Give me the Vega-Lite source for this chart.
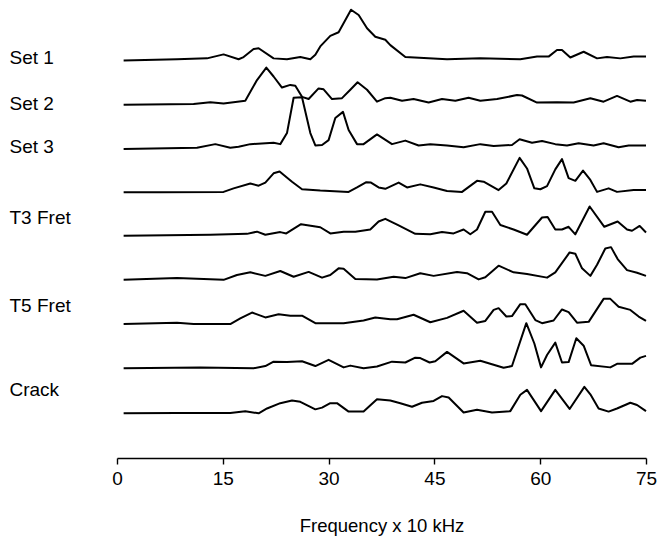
{
  "$schema": "https://vega.github.io/schema/vega-lite/v6.json",
  "width": 529,
  "height": 454,
  "autosize": {"type": "none"},
  "padding": {"left": 117, "top": 4, "right": 13, "bottom": 90},
  "background": "white",
  "config": {
    "view": {"stroke": null},
    "font": "Liberation Sans"
  },
  "data": {
    "values": [
      {"s":"Set 1","f":0.94,"v":8.99},{"s":"Set 1","f":8.51,"v":9.02},{"s":"Set 1","f":12.76,"v":9.04},{"s":"Set 1","f":15.11,"v":9.13},{"s":"Set 1","f":17.24,"v":9.02},{"s":"Set 1","f":17.95,"v":9.07},{"s":"Set 1","f":19.37,"v":9.25},{"s":"Set 1","f":20.08,"v":9.27},{"s":"Set 1","f":22.2,"v":9.04},{"s":"Set 1","f":24.1,"v":9.02},{"s":"Set 1","f":25.99,"v":9.07},{"s":"Set 1","f":27.41,"v":9.02},{"s":"Set 1","f":28.12,"v":9.12},{"s":"Set 1","f":28.82,"v":9.31},{"s":"Set 1","f":30.24,"v":9.55},{"s":"Set 1","f":31.42,"v":9.63},{"s":"Set 1","f":33.18,"v":10.14},{"s":"Set 1","f":34.26,"v":10.02},{"s":"Set 1","f":35.45,"v":9.72},{"s":"Set 1","f":36.62,"v":9.53},{"s":"Set 1","f":38.04,"v":9.46},{"s":"Set 1","f":38.75,"v":9.34},{"s":"Set 1","f":40.88,"v":9.07},{"s":"Set 1","f":46.79,"v":9.02},{"s":"Set 1","f":51.51,"v":9.04},{"s":"Set 1","f":57.18,"v":9.02},{"s":"Set 1","f":59.55,"v":9.08},{"s":"Set 1","f":61.19,"v":9.08},{"s":"Set 1","f":62.38,"v":9.23},{"s":"Set 1","f":63.09,"v":9.23},{"s":"Set 1","f":64.27,"v":9.06},{"s":"Set 1","f":66.16,"v":9.19},{"s":"Set 1","f":68.06,"v":9.04},{"s":"Set 1","f":69.47,"v":9.07},{"s":"Set 1","f":71.36,"v":9.04},{"s":"Set 1","f":73.25,"v":9.08},{"s":"Set 1","f":75,"v":9.08},

      {"s":"Set 2","f":0.94,"v":7.99},{"s":"Set 2","f":10.86,"v":8.01},{"s":"Set 2","f":13.23,"v":8.05},{"s":"Set 2","f":15.11,"v":8.02},{"s":"Set 2","f":18.19,"v":8.08},{"s":"Set 2","f":19.85,"v":8.55},{"s":"Set 2","f":21.17,"v":8.83},{"s":"Set 2","f":22.2,"v":8.63},{"s":"Set 2","f":23.39,"v":8.38},{"s":"Set 2","f":24.57,"v":8.44},{"s":"Set 2","f":25.28,"v":8.42},{"s":"Set 2","f":26.23,"v":8.17},{"s":"Set 2","f":27.17,"v":8.12},{"s":"Set 2","f":28.58,"v":8.36},{"s":"Set 2","f":29.29,"v":8.34},{"s":"Set 2","f":30.48,"v":8.12},{"s":"Set 2","f":31.9,"v":8.14},{"s":"Set 2","f":33.08,"v":8.33},{"s":"Set 2","f":34.11,"v":8.5},{"s":"Set 2","f":35.45,"v":8.33},{"s":"Set 2","f":36.86,"v":8.06},{"s":"Set 2","f":38.04,"v":8.14},{"s":"Set 2","f":38.75,"v":8.15},{"s":"Set 2","f":40.41,"v":8.08},{"s":"Set 2","f":42.05,"v":8.12},{"s":"Set 2","f":44.18,"v":8.04},{"s":"Set 2","f":46.08,"v":8.12},{"s":"Set 2","f":47.97,"v":8.08},{"s":"Set 2","f":49.85,"v":8.15},{"s":"Set 2","f":51.51,"v":8.08},{"s":"Set 2","f":53.88,"v":8.12},{"s":"Set 2","f":56.71,"v":8.21},{"s":"Set 2","f":57.42,"v":8.2},{"s":"Set 2","f":59.55,"v":8.04},{"s":"Set 2","f":62.38,"v":8.05},{"s":"Set 2","f":64.74,"v":8.04},{"s":"Set 2","f":67.11,"v":8.14},{"s":"Set 2","f":68.99,"v":8.06},{"s":"Set 2","f":70.89,"v":8.19},{"s":"Set 2","f":72.78,"v":8.06},{"s":"Set 2","f":73.73,"v":8.1},{"s":"Set 2","f":75,"v":8.08},

      {"s":"Set 3","f":0.94,"v":6.99},{"s":"Set 3","f":11.34,"v":7.02},{"s":"Set 3","f":13.94,"v":7.1},{"s":"Set 3","f":16.06,"v":7.02},{"s":"Set 3","f":17.24,"v":7.04},{"s":"Set 3","f":18.9,"v":7.1},{"s":"Set 3","f":22.2,"v":7.13},{"s":"Set 3","f":23.15,"v":7.1},{"s":"Set 3","f":24.1,"v":7.35},{"s":"Set 3","f":25.04,"v":8.15},{"s":"Set 3","f":26.23,"v":8.16},{"s":"Set 3","f":27.41,"v":7.35},{"s":"Set 3","f":28.12,"v":7.07},{"s":"Set 3","f":29.07,"v":7.08},{"s":"Set 3","f":30.0,"v":7.19},{"s":"Set 3","f":30.95,"v":7.69},{"s":"Set 3","f":32.04,"v":7.83},{"s":"Set 3","f":32.84,"v":7.42},{"s":"Set 3","f":34.03,"v":7.1},{"s":"Set 3","f":34.96,"v":7.1},{"s":"Set 3","f":36.86,"v":7.32},{"s":"Set 3","f":38.99,"v":7.1},{"s":"Set 3","f":40.88,"v":7.18},{"s":"Set 3","f":42.76,"v":7.07},{"s":"Set 3","f":44.42,"v":7.1},{"s":"Set 3","f":46.79,"v":7.07},{"s":"Set 3","f":49.14,"v":7.03},{"s":"Set 3","f":51.51,"v":7.1},{"s":"Set 3","f":53.4,"v":7.06},{"s":"Set 3","f":56.0,"v":7.08},{"s":"Set 3","f":57.08,"v":7.21},{"s":"Set 3","f":58.84,"v":7.13},{"s":"Set 3","f":60.26,"v":7.17},{"s":"Set 3","f":62.14,"v":7.1},{"s":"Set 3","f":63.8,"v":7.07},{"s":"Set 3","f":65.45,"v":7.12},{"s":"Set 3","f":67.57,"v":7.07},{"s":"Set 3","f":68.99,"v":7.12},{"s":"Set 3","f":71.12,"v":7.03},{"s":"Set 3","f":72.54,"v":7.07},{"s":"Set 3","f":75,"v":7.07},

      {"s":"L4","f":0.94,"v":6.01},{"s":"L4","f":6.14,"v":6.01},{"s":"L4","f":15.11,"v":6.02},{"s":"L4","f":16.53,"v":6.1},{"s":"L4","f":18.9,"v":6.21},{"s":"L4","f":20.08,"v":6.16},{"s":"L4","f":21.03,"v":6.23},{"s":"L4","f":22.2,"v":6.44},{"s":"L4","f":23.05,"v":6.48},{"s":"L4","f":24.81,"v":6.25},{"s":"L4","f":26.23,"v":6.08},{"s":"L4","f":28.82,"v":6.05},{"s":"L4","f":32.84,"v":6.02},{"s":"L4","f":34.03,"v":6.12},{"s":"L4","f":35.35,"v":6.24},{"s":"L4","f":36.01,"v":6.23},{"s":"L4","f":37.09,"v":6.12},{"s":"L4","f":38.04,"v":6.09},{"s":"L4","f":39.93,"v":6.23},{"s":"L4","f":41.12,"v":6.12},{"s":"L4","f":43.0,"v":6.19},{"s":"L4","f":44.89,"v":6.12},{"s":"L4","f":46.79,"v":6.04},{"s":"L4","f":48.92,"v":6.02},{"s":"L4","f":51.04,"v":6.27},{"s":"L4","f":51.98,"v":6.25},{"s":"L4","f":54.1,"v":6.06},{"s":"L4","f":55.2,"v":6.21},{"s":"L4","f":57.08,"v":6.79},{"s":"L4","f":58.13,"v":6.55},{"s":"L4","f":59.17,"v":6.1},{"s":"L4","f":60.02,"v":6.08},{"s":"L4","f":60.97,"v":6.15},{"s":"L4","f":62.14,"v":6.53},{"s":"L4","f":63.09,"v":6.76},{"s":"L4","f":64.03,"v":6.33},{"s":"L4","f":64.98,"v":6.27},{"s":"L4","f":66.07,"v":6.5},{"s":"L4","f":67.11,"v":6.29},{"s":"L4","f":68.06,"v":6.02},{"s":"L4","f":69.7,"v":6.1},{"s":"L4","f":70.89,"v":6.02},{"s":"L4","f":73.25,"v":6.06},{"s":"L4","f":75,"v":6.06},

      {"s":"T3 Fret","f":0.94,"v":5.03},{"s":"T3 Fret","f":13.23,"v":5.05},{"s":"T3 Fret","f":18.43,"v":5.07},{"s":"T3 Fret","f":19.85,"v":5.12},{"s":"T3 Fret","f":21.03,"v":5.05},{"s":"T3 Fret","f":23.15,"v":5.11},{"s":"T3 Fret","f":24.0,"v":5.08},{"s":"T3 Fret","f":26.09,"v":5.29},{"s":"T3 Fret","f":28.82,"v":5.22},{"s":"T3 Fret","f":30.24,"v":5.08},{"s":"T3 Fret","f":32.13,"v":5.12},{"s":"T3 Fret","f":33.79,"v":5.12},{"s":"T3 Fret","f":35.91,"v":5.17},{"s":"T3 Fret","f":37.09,"v":5.35},{"s":"T3 Fret","f":38.04,"v":5.41},{"s":"T3 Fret","f":39.93,"v":5.26},{"s":"T3 Fret","f":42.29,"v":5.07},{"s":"T3 Fret","f":44.42,"v":5.06},{"s":"T3 Fret","f":46.08,"v":5.11},{"s":"T3 Fret","f":47.72,"v":5.08},{"s":"T3 Fret","f":49.14,"v":5.17},{"s":"T3 Fret","f":50.09,"v":5.06},{"s":"T3 Fret","f":51.04,"v":5.17},{"s":"T3 Fret","f":52.22,"v":5.57},{"s":"T3 Fret","f":53.17,"v":5.57},{"s":"T3 Fret","f":54.35,"v":5.27},{"s":"T3 Fret","f":56.23,"v":5.17},{"s":"T3 Fret","f":58.13,"v":5.05},{"s":"T3 Fret","f":60.26,"v":5.44},{"s":"T3 Fret","f":61.05,"v":5.45},{"s":"T3 Fret","f":62.14,"v":5.17},{"s":"T3 Fret","f":63.09,"v":5.17},{"s":"T3 Fret","f":64.03,"v":5.23},{"s":"T3 Fret","f":64.98,"v":5.06},{"s":"T3 Fret","f":67.01,"v":5.69},{"s":"T3 Fret","f":69.09,"v":5.23},{"s":"T3 Fret","f":70.98,"v":5.35},{"s":"T3 Fret","f":72.31,"v":5.17},{"s":"T3 Fret","f":73.02,"v":5.14},{"s":"T3 Fret","f":74.1,"v":5.25},{"s":"T3 Fret","f":75,"v":5.1},

      {"s":"L6","f":0.94,"v":4.03},{"s":"L6","f":8.51,"v":4.07},{"s":"L6","f":15.11,"v":4.03},{"s":"L6","f":17.01,"v":4.14},{"s":"L6","f":18.9,"v":4.2},{"s":"L6","f":21.03,"v":4.12},{"s":"L6","f":23.15,"v":4.23},{"s":"L6","f":25.04,"v":4.1},{"s":"L6","f":27.17,"v":4.21},{"s":"L6","f":29.07,"v":4.08},{"s":"L6","f":30.24,"v":4.14},{"s":"L6","f":31.42,"v":4.29},{"s":"L6","f":32.13,"v":4.28},{"s":"L6","f":33.79,"v":4.05},{"s":"L6","f":36.86,"v":4.04},{"s":"L6","f":39.22,"v":4.1},{"s":"L6","f":40.88,"v":4.07},{"s":"L6","f":43.0,"v":4.18},{"s":"L6","f":44.89,"v":4.12},{"s":"L6","f":48.21,"v":4.21},{"s":"L6","f":49.62,"v":4.18},{"s":"L6","f":51.27,"v":4.04},{"s":"L6","f":52.22,"v":4.09},{"s":"L6","f":54.1,"v":4.35},{"s":"L6","f":56.23,"v":4.2},{"s":"L6","f":58.13,"v":4.16},{"s":"L6","f":60.97,"v":4.08},{"s":"L6","f":62.14,"v":4.2},{"s":"L6","f":64.17,"v":4.65},{"s":"L6","f":64.98,"v":4.62},{"s":"L6","f":65.93,"v":4.29},{"s":"L6","f":67.11,"v":4.12},{"s":"L6","f":68.06,"v":4.37},{"s":"L6","f":69.23,"v":4.74},{"s":"L6","f":70.04,"v":4.77},{"s":"L6","f":70.98,"v":4.5},{"s":"L6","f":72.31,"v":4.25},{"s":"L6","f":73.73,"v":4.19},{"s":"L6","f":75,"v":4.12},

      {"s":"T5 Fret","f":0.94,"v":3.03},{"s":"T5 Fret","f":8.51,"v":3.06},{"s":"T5 Fret","f":10.86,"v":3.03},{"s":"T5 Fret","f":16.06,"v":3.03},{"s":"T5 Fret","f":17.48,"v":3.16},{"s":"T5 Fret","f":19.14,"v":3.29},{"s":"T5 Fret","f":21.03,"v":3.18},{"s":"T5 Fret","f":22.91,"v":3.25},{"s":"T5 Fret","f":24.57,"v":3.22},{"s":"T5 Fret","f":26.23,"v":3.22},{"s":"T5 Fret","f":28.12,"v":3.05},{"s":"T5 Fret","f":32.13,"v":3.05},{"s":"T5 Fret","f":34.96,"v":3.11},{"s":"T5 Fret","f":36.62,"v":3.18},{"s":"T5 Fret","f":38.75,"v":3.14},{"s":"T5 Fret","f":39.7,"v":3.14},{"s":"T5 Fret","f":42.05,"v":3.24},{"s":"T5 Fret","f":44.42,"v":3.07},{"s":"T5 Fret","f":46.79,"v":3.17},{"s":"T5 Fret","f":49.14,"v":3.33},{"s":"T5 Fret","f":51.04,"v":3.06},{"s":"T5 Fret","f":52.22,"v":3.1},{"s":"T5 Fret","f":53.4,"v":3.35},{"s":"T5 Fret","f":54.1,"v":3.39},{"s":"T5 Fret","f":55.2,"v":3.2},{"s":"T5 Fret","f":56.0,"v":3.21},{"s":"T5 Fret","f":57.18,"v":3.48},{"s":"T5 Fret","f":57.89,"v":3.48},{"s":"T5 Fret","f":59.31,"v":3.12},{"s":"T5 Fret","f":60.26,"v":3.05},{"s":"T5 Fret","f":61.9,"v":3.11},{"s":"T5 Fret","f":63.09,"v":3.36},{"s":"T5 Fret","f":64.03,"v":3.3},{"s":"T5 Fret","f":65.22,"v":3.06},{"s":"T5 Fret","f":66.87,"v":3.08},{"s":"T5 Fret","f":68.99,"v":3.6},{"s":"T5 Fret","f":69.94,"v":3.6},{"s":"T5 Fret","f":71.12,"v":3.42},{"s":"T5 Fret","f":72.78,"v":3.35},{"s":"T5 Fret","f":73.96,"v":3.2},{"s":"T5 Fret","f":75,"v":3.1},

      {"s":"L8","f":0.94,"v":2.03},{"s":"L8","f":11.81,"v":2.05},{"s":"L8","f":19.37,"v":2.03},{"s":"L8","f":21.03,"v":2.08},{"s":"L8","f":22.2,"v":2.18},{"s":"L8","f":24.1,"v":2.17},{"s":"L8","f":26.23,"v":2.19},{"s":"L8","f":28.12,"v":2.08},{"s":"L8","f":30.0,"v":2.22},{"s":"L8","f":32.13,"v":2.05},{"s":"L8","f":33.08,"v":2.09},{"s":"L8","f":34.96,"v":2.03},{"s":"L8","f":36.86,"v":2.07},{"s":"L8","f":38.99,"v":2.18},{"s":"L8","f":40.88,"v":2.16},{"s":"L8","f":42.29,"v":2.27},{"s":"L8","f":43.0,"v":2.26},{"s":"L8","f":44.32,"v":2.16},{"s":"L8","f":45.13,"v":2.19},{"s":"L8","f":46.79,"v":2.4},{"s":"L8","f":49.14,"v":2.14},{"s":"L8","f":51.51,"v":2.2},{"s":"L8","f":54.81,"v":2.04},{"s":"L8","f":56.0,"v":2.08},{"s":"L8","f":58.03,"v":3.05},{"s":"L8","f":59.17,"v":2.59},{"s":"L8","f":60.12,"v":2.05},{"s":"L8","f":60.97,"v":2.33},{"s":"L8","f":62.14,"v":2.61},{"s":"L8","f":63.09,"v":2.16},{"s":"L8","f":64.03,"v":2.17},{"s":"L8","f":65.12,"v":2.71},{"s":"L8","f":66.16,"v":2.54},{"s":"L8","f":67.21,"v":2.1},{"s":"L8","f":69.94,"v":2.05},{"s":"L8","f":70.89,"v":2.13},{"s":"L8","f":73.02,"v":2.13},{"s":"L8","f":74.2,"v":2.27},{"s":"L8","f":75,"v":2.31},

      {"s":"Crack","f":0.94,"v":1.01},{"s":"Crack","f":8.51,"v":1.02},{"s":"Crack","f":16.06,"v":1.02},{"s":"Crack","f":18.19,"v":1.06},{"s":"Crack","f":20.08,"v":1.01},{"s":"Crack","f":21.27,"v":1.12},{"s":"Crack","f":23.15,"v":1.24},{"s":"Crack","f":24.81,"v":1.3},{"s":"Crack","f":25.99,"v":1.27},{"s":"Crack","f":28.12,"v":1.1},{"s":"Crack","f":29.07,"v":1.14},{"s":"Crack","f":30.24,"v":1.24},{"s":"Crack","f":31.19,"v":1.24},{"s":"Crack","f":32.84,"v":1.05},{"s":"Crack","f":34.96,"v":1.05},{"s":"Crack","f":36.86,"v":1.33},{"s":"Crack","f":38.75,"v":1.3},{"s":"Crack","f":40.17,"v":1.24},{"s":"Crack","f":41.83,"v":1.16},{"s":"Crack","f":43.24,"v":1.25},{"s":"Crack","f":44.89,"v":1.29},{"s":"Crack","f":46.08,"v":1.4},{"s":"Crack","f":47.02,"v":1.37},{"s":"Crack","f":49.14,"v":1.03},{"s":"Crack","f":51.04,"v":1.09},{"s":"Crack","f":53.17,"v":1.03},{"s":"Crack","f":55.76,"v":1.06},{"s":"Crack","f":57.18,"v":1.43},{"s":"Crack","f":58.13,"v":1.54},{"s":"Crack","f":60.12,"v":1.06},{"s":"Crack","f":62.14,"v":1.54},{"s":"Crack","f":64.17,"v":1.11},{"s":"Crack","f":66.26,"v":1.61},{"s":"Crack","f":67.11,"v":1.44},{"s":"Crack","f":68.28,"v":1.12},{"s":"Crack","f":69.7,"v":1.05},{"s":"Crack","f":70.89,"v":1.12},{"s":"Crack","f":72.78,"v":1.25},{"s":"Crack","f":73.73,"v":1.2},{"s":"Crack","f":75,"v":1.06}
    ]
  },
  "mark": {"type": "line", "color": "black", "strokeWidth": 2, "strokeJoin": "round", "interpolate": "linear"},
  "encoding": {
    "x": {
      "field": "f", "type": "quantitative",
      "scale": {"domain": [0, 75], "nice": false, "zero": false},
      "axis": {
        "values": [0, 15, 30, 45, 60, 75],
        "format": "d",
        "grid": false,
        "domainColor": "black", "domainWidth": 1.4,
        "tickColor": "black", "tickWidth": 1.4, "tickSize": 6,
        "labelColor": "black", "labelFontSize": 19, "labelFont": "Liberation Sans",
        "labelPadding": 5, "labelFlush": false, "labelOverlap": false,
        "title": "Frequency x 10 kHz",
        "titleFont": "Liberation Sans", "titleFontSize": 18.5, "titleFontWeight": "normal",
        "titleColor": "black", "titlePadding": 28
      }
    },
    "y": {
      "field": "v", "type": "quantitative",
      "scale": {"domain": [0, 10.27], "nice": false, "zero": false},
      "axis": {
        "values": [9.07, 8.03, 7.04, 5.45, 3.46, 1.54],
        "labelExpr": "datum.value > 9 ? 'Set 1' : datum.value > 8 ? 'Set 2' : datum.value > 7 ? 'Set 3' : datum.value > 5 ? 'T3 Fret' : datum.value > 3 ? 'T5 Fret' : 'Crack'",
        "domain": false, "ticks": false, "tickSize": 0, "grid": false,
        "labelAlign": "left", "labelBaseline": "middle",
        "labelPadding": 108, "labelOverlap": false, "labelFlush": false,
        "labelColor": "black", "labelFontSize": 19, "labelFont": "Liberation Sans",
        "title": null
      }
    },
    "detail": {"field": "s", "type": "nominal"}
  }
}
